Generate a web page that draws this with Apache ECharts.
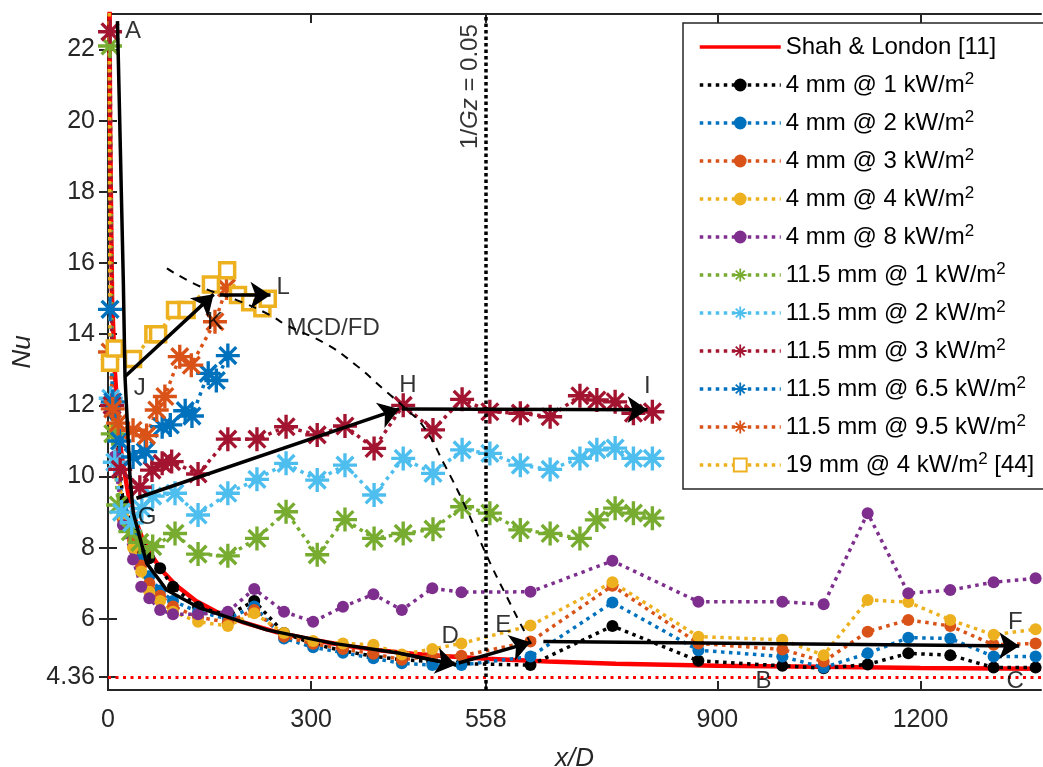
<!DOCTYPE html>
<html>
<head>
<meta charset="utf-8">
<script src="https://cdn.jsdelivr.net/npm/echarts@6/dist/echarts.min.js"></script>
<style>
  html, body { margin: 0; padding: 0; background: #ffffff; }
  #chart { width: 1043px; height: 767px; }
</style>
</head>
<body>
<div id="chart"></div>
<script>
// Local Nusselt number along the tube (x/D), several tube diameters and heat fluxes
const FONT = '"Liberation Sans", Arial, Helvetica, sans-serif';

const xTicks = [0, 300, 558, 900, 1200];
const yTicks = [4.36, 6, 8, 10, 12, 14, 16, 18, 20, 22];

// Shah & London correlation
const shahX  = [1, 3, 6, 10, 15, 20, 30, 40, 50, 60, 80, 100, 130, 160, 200, 250, 300, 350, 400, 450, 500, 560, 650, 750, 900, 1050, 1200, 1378];
const shahNu = [30, 20, 15, 13.0, 11.5, 10.6, 9.5, 8.8, 8.3, 7.9, 7.35, 6.95, 6.5, 6.2, 5.9, 5.62, 5.42, 5.25, 5.12, 5.02, 4.95, 4.88, 4.80, 4.74, 4.68, 4.65, 4.62, 4.60];

// 4 mm tube
const x4 = [10, 22, 37, 49, 61, 77, 96, 133, 177, 216, 260, 303, 347, 392, 434, 479, 522, 624, 745, 872, 996, 1057, 1122, 1182, 1244, 1308, 1370];
const nu4q1 = [12.0, 9.3, 8.6, 8.0, 7.7, 7.42, 6.90, 6.33, 6.10, 6.50, 5.60, 5.30, 5.10, 4.95, 4.85, 4.80, 4.74, 4.70, 5.80, 4.82, 4.68, 4.61, 4.72, 5.03, 4.98, 4.63, 4.63];
const nu4q2 = [11.7, 9.0, 8.3, 7.7, 7.2, 6.80, 6.50, 6.20, 6.00, 6.35, 5.45, 5.20, 5.05, 4.89, 4.75, 4.70, 4.70, 4.94, 6.46, 5.12, 4.94, 4.63, 5.03, 5.47, 5.45, 4.94, 4.94];
const nu4q3 = [11.2, 8.8, 8.2, 7.5, 7.0, 6.65, 6.35, 6.05, 5.90, 6.25, 5.50, 5.30, 5.15, 5.02, 4.85, 4.96, 4.96, 5.36, 6.93, 5.31, 5.14, 4.80, 5.64, 5.97, 5.80, 5.27, 5.31];
const nu4q4 = [11.4, 8.9, 8.0, 7.33, 6.76, 6.50, 6.20, 5.92, 5.80, 6.16, 5.60, 5.38, 5.31, 5.27, 5.00, 5.15, 5.31, 5.81, 7.03, 5.50, 5.41, 4.98, 6.53, 6.47, 5.97, 5.55, 5.71];
const nu4q8 = [10.56, 8.64, 7.67, 6.90, 6.58, 6.25, 6.13, 6.13, 6.20, 6.84, 6.20, 5.92, 6.34, 6.69, 6.25, 6.86, 6.75, 6.76, 7.63, 6.48, 6.48, 6.41, 8.97, 6.72, 6.81, 7.03, 7.14];

// 11.5 mm tube
const x115q1  = [3, 7, 15, 33, 47, 66, 99, 133, 177, 220, 263, 309, 350, 393, 436, 480, 523, 564, 609, 653, 697, 722, 749, 776, 804];
const nu115q1 = [22.1, 11.2, 9.2, 8.45, 8.15, 8.03, 8.40, 7.82, 7.77, 8.26, 9.01, 7.80, 8.79, 8.26, 8.40, 8.52, 9.15, 8.97, 8.50, 8.40, 8.26, 8.78, 9.11, 8.97, 8.83];
const x115q2  = [4, 10, 20, 35, 50, 66, 99, 133, 177, 220, 263, 309, 350, 393, 436, 480, 523, 564, 609, 653, 697, 722, 749, 776, 804];
const nu115q2 = [12.2, 10.4, 9.0, 8.7, 9.1, 9.45, 9.53, 8.92, 9.53, 9.92, 10.37, 9.90, 10.32, 9.48, 10.51, 10.09, 10.75, 10.65, 10.32, 10.20, 10.51, 10.75, 10.80, 10.51, 10.51];
const x115q3  = [3, 6, 18, 47, 65, 80, 94, 133, 177, 220, 263, 309, 350, 393, 436, 480, 523, 564, 609, 653, 697, 722, 749, 776, 804];
const nu115q3 = [22.5, 12.0, 10.2, 9.7, 10.18, 10.37, 10.42, 10.07, 11.05, 11.05, 11.40, 11.17, 11.42, 10.79, 12.0, 11.31, 12.17, 11.82, 11.78, 11.68, 12.27, 12.15, 12.10, 11.78, 11.82];
const x115q65  = [3, 7, 17, 37, 55, 80, 92, 114, 124, 148, 160, 177];
const nu115q65 = [14.7, 12.1, 11.0, 10.55, 10.7, 11.4, 11.45, 11.85, 11.7, 12.9, 12.7, 13.4];
const x115q95  = [3, 7, 15, 37, 57, 72, 84, 106, 123, 158, 175];
const nu115q95 = [13.5, 11.9, 11.5, 11.3, 11.15, 11.87, 12.25, 13.37, 13.13, 14.35, 15.3];

// 19 mm tube [44]
const x19  = [1, 3, 10, 37, 67, 74, 99, 116, 152, 176, 192, 210, 228, 236];
const nu19 = [30, 13.2, 13.6, 13.3, 14.0, 14.0, 14.68, 14.68, 15.4, 15.8, 15.1, 14.9, 14.73, 15.0];

// Trend annotations
const trendAtoD = [[14, 22.8], [22.6, 15.52], [25.1, 12.81], [32.5, 10.0], [37.4, 8.97], [57.2, 7.56], [86.7, 6.81], [136, 6.30], [234.5, 5.69], [333, 5.31], [431.5, 5.03], [514, 4.71]];
const arrowSegs = [
  [[25.1, 12.81], [156, 15.12]],   // J -> K
  [[165, 15.1], [240, 15.1]],      // K -> L
  [[42, 9.39], [430, 11.9]],       // G -> H
  [[434, 11.9], [797, 11.88]],     // H -> I
  [[518, 4.76], [624, 5.34]],      // D -> E
  [[643, 5.36], [1346, 5.24]]      // E -> F
];
const mcdfd = [[87, 15.85], [136, 15.34], [190, 14.96], [239, 14.54], [264, 14.25], [320, 13.75], [365, 13.15], [407, 12.45], [439, 11.92], [466, 11.40], [496, 10.37], [530, 9.06], [560, 7.75], [589, 6.62], [619, 5.50], [625, 5.30]];
const letterNames = ['A', 'J', 'G', 'K', 'L', 'H', 'I', 'D', 'E', 'F', 'B', 'C', 'MCD/FD'];
const letterPos = [[37, 22.52], [47, 12.49], [57.6, 8.86], [158, 14.34], [258.6, 15.33], [443, 12.57], [796.5, 12.52], [505.4, 5.52], [583.7, 5.83], [1340, 5.91], [968, 4.23], [1340, 4.23], [332.5, 14.17]];
const gzLabelPos = [535, 20.96];
const gzLine = 558;
const fdNu = 4.36;

const zip = (xs, ys) => xs.map((x, i) => [x, ys[i]]);

const ASTERISK = 'path://M0,43L100,43L100,57L0,57Z M43,0L57,0L57,100L43,100Z M19.95,10.05L89.95,80.05L80.05,89.95L10.05,19.95Z M80.05,10.05L89.95,19.95L19.95,89.95L10.05,80.05Z';
const DOT = [3.5, 4.5];

function dotted(name, color, xs, ys, symbol, size, itemStyle) {
  return {
    name, type: 'line', data: zip(xs, ys),
    symbol, symbolSize: size, showSymbol: true, showAllSymbol: true,
    lineStyle: { color, width: 3.5, type: DOT, cap: 'butt' },
    itemStyle: itemStyle || { color },
    emphasis: { disabled: true }, z: 3
  };
}

const series = [
  {
    name: 'Shah & London [11]', type: 'line', data: zip(shahX, shahNu),
    symbol: 'none', smooth: false,
    lineStyle: { color: '#FF0000', width: 4.5 }, itemStyle: { color: '#FF0000' },
    markLine: {
      silent: true, symbol: 'none', label: { show: false },
      lineStyle: { color: '#FF0000', width: 3, type: [3, 4.5] },
      data: [{ yAxis: fdNu }]
    },
    z: 2
  },
  dotted('4 mm @ 1 kW/m²', '#000000', x4, nu4q1, 'circle', 12),
  dotted('4 mm @ 2 kW/m²', '#0072BD', x4, nu4q2, 'circle', 12),
  dotted('4 mm @ 3 kW/m²', '#D95319', x4, nu4q3, 'circle', 12),
  dotted('4 mm @ 4 kW/m²', '#EDB120', x4, nu4q4, 'circle', 12),
  dotted('4 mm @ 8 kW/m²', '#7E2F8E', x4, nu4q8, 'circle', 12),
  dotted('11.5 mm @ 1 kW/m²', '#77AC30', x115q1, nu115q1, ASTERISK, 24),
  dotted('11.5 mm @ 2 kW/m²', '#4DBEEE', x115q2, nu115q2, ASTERISK, 24),
  dotted('11.5 mm @ 3 kW/m²', '#A2142F', x115q3, nu115q3, ASTERISK, 24),
  dotted('11.5 mm @ 6.5 kW/m²', '#0072BD', x115q65, nu115q65, ASTERISK, 24),
  dotted('11.5 mm @ 9.5 kW/m²', '#D95319', x115q95, nu115q95, ASTERISK, 24),
  dotted('19 mm @ 4 kW/m² [44]', '#EDB120', x19, nu19, 'rect', 15,
    { color: '#ffffff', borderColor: '#EDB120', borderWidth: 3.5 }),
  {
    name: 'trend', type: 'line', data: trendAtoD, symbol: 'none',
    lineStyle: { color: '#000', width: 3.5 }, z: 10, silent: true
  },
  {
    name: 'mcdfd', type: 'line', data: mcdfd, symbol: 'none', smooth: true,
    lineStyle: { color: '#000', width: 2, type: [8, 7] }, z: 9, silent: true
  },
  {
    name: 'arrows', type: 'lines', coordinateSystem: 'cartesian2d', silent: true,
    symbol: ['none', 'arrow'], symbolSize: 20,
    lineStyle: { color: '#000', width: 3.5, opacity: 1, curveness: 0 },
    data: arrowSegs.concat([[trendAtoD[trendAtoD.length - 2], trendAtoD[trendAtoD.length - 1]]]).map(c => ({ coords: c })),
    z: 11
  },
  {
    name: 'labels', type: 'scatter', silent: true,
    symbolSize: 1, itemStyle: { color: 'transparent' },
    data: letterNames.map((n, i) => ({ name: n, value: letterPos[i] })).concat([
      { name: '1/Gz = 0.05', value: gzLabelPos,
        label: { rotate: 90, formatter: '1/{i|Gz} = 0.05' } }
    ]),
    label: {
      show: true, position: 'inside', formatter: '{b}',
      color: '#000', fontSize: 24, fontFamily: FONT,
      rich: { i: { fontStyle: 'italic', fontSize: 24, fontFamily: FONT, color: '#000' } }
    },
    markLine: {
      silent: true, symbol: 'none', label: { show: false },
      lineStyle: { color: '#000', width: 3.5, type: [3.5, 3] },
      data: [{ xAxis: gzLine }]
    },
    z: 12
  }
];

const axisColor = '#262626';
const tickStyle = { inside: true, length: 9, lineStyle: { color: axisColor, width: 2 } };

const legendNames = series.slice(0, 12).map(s => s.name);

const option = {
  animation: false,
  backgroundColor: '#ffffff',
  grid: { left: 108, top: 14, width: 933, height: 676, containLabel: false, outerBoundsMode: 'none' },
  xAxis: [
    {
      type: 'value', min: 0, max: 1378, position: 'bottom',
      axisLine: { lineStyle: { color: axisColor, width: 2 } },
      axisTick: Object.assign({ customValues: xTicks }, tickStyle),
      axisLabel: { customValues: xTicks, fontSize: 25, color: axisColor, fontFamily: FONT, margin: 18,
        formatter: v => String(v) },
      splitLine: { show: false },
      name: 'x/D', nameLocation: 'middle', nameGap: 56,
      nameTextStyle: { fontStyle: 'italic', fontSize: 26, color: axisColor, fontFamily: FONT }
    },
    {
      type: 'value', min: 0, max: 1378, position: 'top',
      axisLine: { show: true, lineStyle: { color: axisColor, width: 2 } },
      axisTick: Object.assign({ customValues: xTicks }, tickStyle),
      axisLabel: { show: false }, splitLine: { show: false }
    }
  ],
  yAxis: [
    {
      type: 'value', min: 4, max: 23, position: 'left',
      axisLine: { show: true, lineStyle: { color: axisColor, width: 2 } },
      axisTick: Object.assign({ customValues: yTicks }, tickStyle),
      axisLabel: { customValues: yTicks, fontSize: 25, color: axisColor, fontFamily: FONT, margin: 13,
        formatter: v => String(v) },
      splitLine: { show: false },
      name: 'Nu', nameLocation: 'middle', nameGap: 60,
      nameTextStyle: { fontStyle: 'italic', fontSize: 26, color: axisColor, fontFamily: FONT }
    },
    {
      type: 'value', min: 4, max: 23, position: 'right',
      axisLine: { show: true, lineStyle: { color: axisColor, width: 2 } },
      axisTick: Object.assign({ customValues: yTicks }, tickStyle),
      axisLabel: { show: false }, splitLine: { show: false }
    }
  ],
  legend: {
    data: legendNames.map((n, i) => i === 0 ? { name: n, itemStyle: { opacity: 0 } } : n),
    orient: 'vertical', left: 683, top: 23,
    itemWidth: 81, itemHeight: 16, itemGap: 10,
    padding: [10, 10, 10, 15],
    backgroundColor: '#ffffff', borderColor: axisColor, borderWidth: 1.5, borderRadius: 0,
    selectedMode: false,
    lineStyle: { width: 3.5 },
    formatter: name => name.replace('²', '{sup|2}'),
    textStyle: {
      fontSize: 24, fontFamily: FONT, color: '#000', lineHeight: 28,
      rich: { sup: { fontSize: 17, fontFamily: FONT, color: '#000', verticalAlign: 'top', lineHeight: 14 } }
    }
  },
  series
};

const chart = echarts.init(document.getElementById('chart'), null, { renderer: 'canvas' });
chart.setOption(option);
</script>
</body>
</html>
